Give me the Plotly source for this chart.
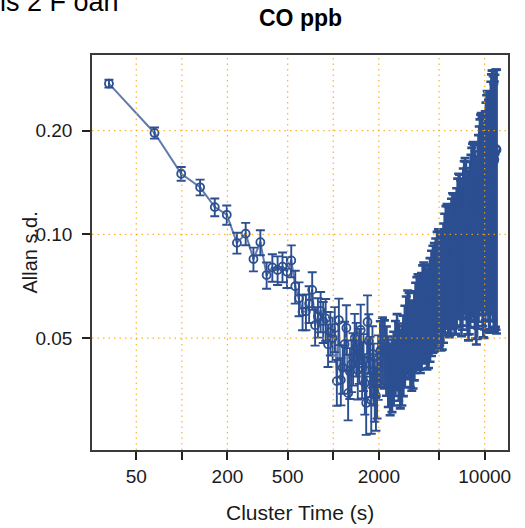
import plotly.graph_objects as go

# ---------------- data ----------------
cluster_time = [
    33, 66, 99, 132, 165, 198, 231, 264, 297, 330,
    363, 396, 429, 462, 495, 528, 561, 594, 627, 660,
    693, 726, 759, 792, 825, 858, 891, 924, 957, 990,
    1023, 1056, 1089, 1122, 1155, 1188, 1221, 1254, 1287, 1320,
    1353, 1386, 1419, 1452, 1485, 1518, 1551, 1584, 1617, 1650,
    1683, 1716, 1749, 1782, 1815, 1848, 1881, 1914, 1947, 1980,
    2046, 2112, 2178, 2244, 2310, 2376, 2442, 2508, 2574, 2640,
    2706, 2772, 2838, 2904, 2970, 3036, 3102, 3168, 3234, 3300,
    3366, 3432, 3498, 3564, 3630, 3696, 3762, 3828, 3894, 3960,
    4059, 4158, 4257, 4356, 4455, 4554, 4653, 4752, 4851, 4950,
    5049, 5148, 5247, 5346, 5445, 5544, 5643, 5742, 5841, 5940,
    6039, 6138, 6237, 6336, 6435, 6534, 6633, 6732, 6831, 6930,
    7029, 7128, 7227, 7326, 7425, 7524, 7623, 7722, 7821, 7920,
    8019, 8118, 8217, 8316, 8415, 8514, 8613, 8712, 8811, 8910,
    9009, 9108, 9207, 9306, 9405, 9504, 9603, 9702, 9801, 9900,
    9999, 10098, 10197, 10296, 10395, 10494, 10593, 10692, 10791, 10890,
    10989, 11088, 11187, 11286, 11385, 11484, 11583, 11682, 11781, 11880,
    11979,
]

allan_sd = [
    0.274, 0.197, 0.150, 0.137, 0.120, 0.114, 0.0945, 0.1005, 0.0848, 0.0949,
    0.0762, 0.0802, 0.0788, 0.0806, 0.0779, 0.0840, 0.0707, 0.0652, 0.0596, 0.0598,
    0.063, 0.069, 0.0545, 0.0577, 0.060, 0.056, 0.057, 0.048, 0.052, 0.050,
    0.0535, 0.0375, 0.0564, 0.0378, 0.041, 0.048, 0.0535, 0.0346, 0.040, 0.042,
    0.044, 0.050, 0.047, 0.0404, 0.045, 0.0528, 0.041, 0.0432, 0.037, 0.0324,
    0.0557, 0.049, 0.042, 0.033, 0.045, 0.040, 0.036, 0.034, 0.037, 0.042,
    0.046, 0.047, 0.046, 0.044, 0.041, 0.039, 0.040, 0.042, 0.045, 0.047,
    0.044, 0.042, 0.043, 0.046, 0.049, 0.052, 0.054, 0.053, 0.050, 0.049,
    0.050, 0.053, 0.056, 0.058, 0.059, 0.058, 0.057, 0.059, 0.062, 0.063,
    0.062, 0.060, 0.061, 0.064, 0.067, 0.069, 0.070, 0.072, 0.075, 0.076,
    0.075, 0.073, 0.074, 0.078, 0.083, 0.087, 0.088, 0.086, 0.084, 0.086,
    0.090, 0.093, 0.092, 0.089, 0.090, 0.095, 0.101, 0.104, 0.103, 0.099,
    0.093, 0.098, 0.106, 0.111, 0.113, 0.110, 0.105, 0.100, 0.097, 0.102,
    0.108, 0.113, 0.118, 0.121, 0.122, 0.119, 0.114, 0.107, 0.104, 0.109,
    0.118, 0.125, 0.132, 0.138, 0.142, 0.143, 0.139, 0.130, 0.122, 0.123,
    0.132, 0.142, 0.150, 0.157, 0.161, 0.159, 0.151, 0.142, 0.146, 0.158,
    0.168, 0.176, 0.180, 0.179, 0.172, 0.163, 0.165, 0.172, 0.177, 0.177,
    0.176,
]

# total record length (s); Allan s.d. uncertainty = sd / sqrt(2 (T/tau - 1))
record_length = 23958

x_tick_vals = [50, 100, 200, 500, 1000, 2000, 5000, 10000]
x_tick_text = ["50", "", "200", "500", "", "2000", "", "10000"]
y_tick_vals = [0.05, 0.10, 0.20]
y_tick_text = ["0.05", "0.10", "0.20"]

panel_title = "CO ppb"
x_title = "Cluster Time (s)"
y_title = "Allan s.d."
corner_text = "is 2 F oan"

# ---------------- styling ----------------
BLUE = "rgb(44,79,145)"
ORANGE = "rgba(255,165,0,0.85)"
FONT = "Liberation Sans, Arial, sans-serif"

err = [v / (2 * (record_length / t - 1)) ** 0.5 for v, t in zip(allan_sd, cluster_time)]

# where individual points are still resolvable (below ~2000 s) use thin bars
sparse = [t < 2000 for t in cluster_time]
xs = [t for t, s in zip(cluster_time, sparse) if s]
ys = [v for v, s in zip(allan_sd, sparse) if s]
es = [e for e, s in zip(err, sparse) if s]
xd = [t for t, s in zip(cluster_time, sparse) if not s]
yd = [v for v, s in zip(allan_sd, sparse) if not s]
ed = [e for e, s in zip(err, sparse) if not s]

fig = go.Figure()
fig.add_trace(go.Scatter(
    x=xd, y=yd, mode="markers",
    marker=dict(size=2, color=BLUE),
    error_y=dict(type="data", array=ed, visible=True, color=BLUE,
                 thickness=2.6, width=4.5),
    showlegend=False, hoverinfo="skip",
))
fig.add_trace(go.Scatter(
    x=xs, y=ys, mode="markers",
    marker=dict(size=2, color=BLUE),
    error_y=dict(type="data", array=es, visible=True, color=BLUE,
                 thickness=1.9, width=4.5),
    showlegend=False, hoverinfo="skip",
))
fig.add_trace(go.Scatter(
    x=cluster_time, y=allan_sd, mode="lines+markers",
    line=dict(color="rgba(44,79,145,0.75)", width=2),
    marker=dict(symbol="circle-open", size=8, color=BLUE, line=dict(width=1.8)),
    showlegend=False, hoverinfo="skip",
))

shapes = []
for t in x_tick_vals:
    shapes.append(dict(type="line", xref="x", yref="paper", x0=t, x1=t, y0=0, y1=1,
                       line=dict(color=ORANGE, width=1.2, dash="1.5px,4px"), layer="above"))
for t in y_tick_vals:
    shapes.append(dict(type="line", xref="paper", yref="y", x0=0, x1=1, y0=t, y1=t,
                       line=dict(color=ORANGE, width=1.2, dash="1.5px,4px"), layer="above"))

L, R, T, B = 92, 17, 55, 78
W, H = 525, 528
pw, ph = W - L - R, H - T - B


def py(px):
    return (H - B - px) / ph


def pxx(px):
    return (px - L) / pw


annotations = [
    dict(text="<b>" + panel_title + "</b>", xref="paper", yref="paper", x=0.5, y=py(18),
         xanchor="center", yanchor="middle", showarrow=False,
         font=dict(family=FONT, size=23, color="black")),
    dict(text=x_title, xref="paper", yref="paper", x=0.5, y=py(512),
         xanchor="center", yanchor="middle", showarrow=False,
         font=dict(family=FONT, size=21, color="#1a1a1a")),
    dict(text=y_title, xref="paper", yref="paper", x=pxx(29), y=0.5, textangle=-90,
         xanchor="center", yanchor="middle", showarrow=False,
         font=dict(family=FONT, size=20, color="#1a1a1a")),
    dict(text=corner_text, xref="paper", yref="paper", x=pxx(-2), y=py(2),
         xanchor="left", yanchor="middle", showarrow=False,
         font=dict(family=FONT, size=27, color="black")),
]

axis_common = dict(
    type="log", showgrid=False, zeroline=False,
    showline=True, linecolor="#3a3a3a", linewidth=1.6, mirror=True,
    ticks="outside", ticklen=8, tickwidth=1.6, tickcolor="#222",
    tickfont=dict(family=FONT, size=19, color="#1a1a1a"),
)

fig.update_layout(
    width=W, height=H,
    margin=dict(l=L, r=R, t=T, b=B),
    paper_bgcolor="white", plot_bgcolor="white",
    xaxis=dict(range=[1.4066, 4.1541], tickvals=x_tick_vals, ticktext=x_tick_text,
               ticklabelstandoff=0, **axis_common),
    yaxis=dict(range=[-1.626, -0.4792], tickvals=y_tick_vals, ticktext=y_tick_text,
               ticklabelstandoff=6, **axis_common),
    shapes=shapes,
    annotations=annotations,
)

fig.write_html("out.html", config={"displayModeBar": False},
               post_script="document.body.style.margin='0';")
